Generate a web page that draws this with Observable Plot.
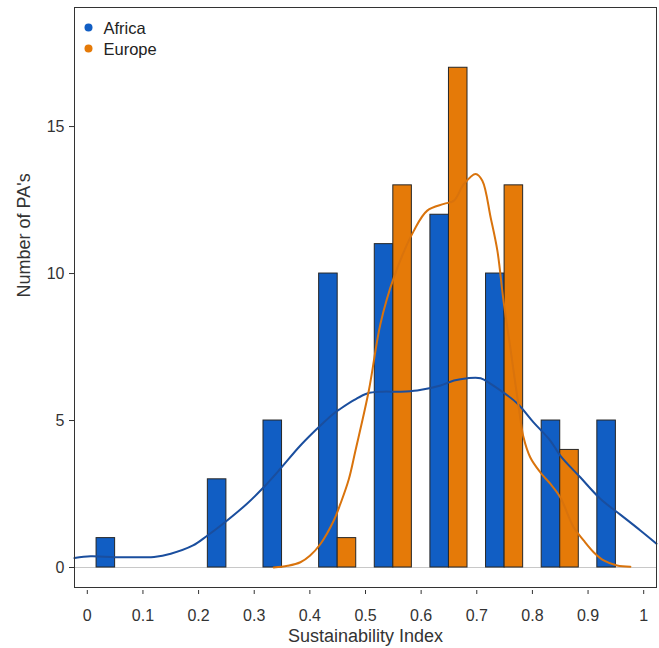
<!DOCTYPE html>
<html>
<head>
<meta charset="utf-8">
<script src="https://cdn.jsdelivr.net/npm/d3@7"></script>
<script src="https://cdn.jsdelivr.net/npm/@observablehq/plot@0.6"></script>
<style>
  html, body { margin: 0; padding: 0; background: #fff; }
  #chart svg { display: block; }
</style>
</head>
<body>
<div id="chart"></div>
<script>
// ---- Data ----
const series = ["Africa", "Europe"];
const binStarts = [0, 0.1, 0.2, 0.3, 0.4, 0.5, 0.6, 0.7, 0.8, 0.9];
const africaCounts = [1, 0, 3, 5, 10, 11, 12, 10, 5, 5];
const europeCounts = [0, 0, 0, 0, 1, 13, 17, 13, 4, 0];

const africaCurveX = [-0.023, 0.006, 0.05, 0.1, 0.12, 0.15, 0.19, 0.216, 0.24, 0.287, 0.317, 0.347, 0.383, 0.419, 0.443, 0.455, 0.48, 0.503, 0.53, 0.56, 0.593, 0.635, 0.659, 0.683, 0.707, 0.725, 0.748, 0.773, 0.802, 0.832, 0.85, 0.886, 0.922, 0.958, 0.994, 1.023];
const africaCurveY = [0.32, 0.38, 0.35, 0.35, 0.36, 0.47, 0.75, 1.09, 1.43, 2.17, 2.73, 3.36, 4.15, 4.83, 5.24, 5.4, 5.7, 5.92, 5.98, 5.98, 6.02, 6.19, 6.36, 6.44, 6.44, 6.25, 5.95, 5.58, 4.94, 4.32, 3.81, 3.07, 2.34, 1.8, 1.26, 0.81];

const europeCurveX = [0.335, 0.36, 0.383, 0.4, 0.419, 0.443, 0.455, 0.47, 0.482, 0.506, 0.527, 0.551, 0.587, 0.611, 0.641, 0.659, 0.677, 0.698, 0.71, 0.725, 0.737, 0.748, 0.761, 0.778, 0.784, 0.796, 0.814, 0.832, 0.85, 0.874, 0.892, 0.91, 0.928, 0.952, 0.976];
const europeCurveY = [0, 0.06, 0.18, 0.4, 0.8, 1.6, 2.17, 3.0, 3.98, 6.02, 8.3, 9.87, 11.46, 12.14, 12.37, 12.48, 13.05, 13.39, 13.16, 11.9, 10.78, 9.08, 7.38, 5.11, 4.43, 3.75, 3.24, 2.85, 2.39, 1.37, 0.92, 0.52, 0.24, 0.07, 0.03];

const xTicks = [0, 0.1, 0.2, 0.3, 0.4, 0.5, 0.6, 0.7, 0.8, 0.9, 1];
const yTicks = [0, 5, 10, 15];
const xTitle = "Sustainability Index";
const yTitle = "Number of PA's";

// ---- Styles ----
const fillColors = {Africa: "#115ec4", Europe: "#e57a08"};
const lineColors = {Africa: "#1a4e9e", Europe: "#d9730c"};
const font = "'Liberation Sans', Arial, sans-serif";

// ---- Derived tables ----
const binWidth = 0.1;
const bars = [];
binStarts.forEach((b, i) => {
  if (africaCounts[i] > 0) bars.push({series: "Africa", x1: b + binWidth / 6, x2: b + binWidth / 2, n: africaCounts[i]});
  if (europeCounts[i] > 0) bars.push({series: "Europe", x1: b + binWidth / 2, x2: b + binWidth * 5 / 6, n: europeCounts[i]});
});
const africaCurve = africaCurveX.map((x, i) => ({x, y: africaCurveY[i]}));
const europeCurve = europeCurveX.map((x, i) => ({x, y: europeCurveY[i]}));

const chart = Plot.plot({
  width: 659,
  height: 648,
  marginLeft: 74,
  marginRight: 3,
  marginTop: 7,
  marginBottom: 61,
  style: {fontFamily: font, fontSize: "16px", color: "#333", background: "#fff"},
  x: {domain: [-0.023, 1.023]},
  y: {domain: [-0.68, 19.05]},
  marks: [
    Plot.ruleY([0], {stroke: "#c8c8c8", strokeWidth: 1}),
    Plot.rectY(bars, {
      x1: "x1", x2: "x2", y1: 0, y2: "n",
      fill: d => fillColors[d.series],
      stroke: "#262626", strokeWidth: 1
    }),
    Plot.line(africaCurve, {x: "x", y: "y", stroke: lineColors.Africa, strokeWidth: 2, curve: "catmull-rom"}),
    Plot.line(europeCurve, {x: "x", y: "y", stroke: lineColors.Europe, strokeWidth: 2, curve: "catmull-rom"}),
    Plot.frame({stroke: "#333", strokeWidth: 1}),
    Plot.axisX({ticks: xTicks, tickFormat: d => String(d), tickSize: 4, tickPadding: 15, dy: 3, label: null, fontSize: 16, stroke: "#333", fill: "#333"}),
    Plot.axisY({ticks: yTicks, tickFormat: d => String(d), tickSize: 5, tickPadding: 5, label: null, fontSize: 16, stroke: "#333", fill: "#333"}),
    Plot.text([xTitle], {text: d => d, frameAnchor: "bottom", dy: 49, lineAnchor: "middle", fontSize: 18, fill: "#333"}),
    Plot.text([yTitle], {text: d => d, frameAnchor: "left", dx: -50, rotate: -90, lineAnchor: "middle", fontSize: 18, fill: "#333"}),
    Plot.dot([series[0]], {frameAnchor: "top-left", dx: 14, dy: 20, r: 4, fill: fillColors.Africa}),
    Plot.dot([series[1]], {frameAnchor: "top-left", dx: 14, dy: 41, r: 4, fill: fillColors.Europe}),
    Plot.text([series[0]], {text: d => d, frameAnchor: "top-left", dx: 29, dy: 21, textAnchor: "start", lineAnchor: "middle", fontSize: 16.5, fill: "#222"}),
    Plot.text([series[1]], {text: d => d, frameAnchor: "top-left", dx: 29, dy: 42, textAnchor: "start", lineAnchor: "middle", fontSize: 16.5, fill: "#222"})
  ]
});
document.getElementById("chart").appendChild(chart);
</script>
</body>
</html>
